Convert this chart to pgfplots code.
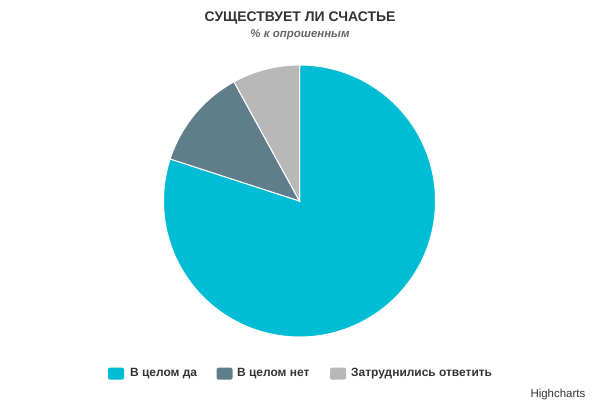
\documentclass[border=0pt]{standalone}
\usepackage{fontspec}
\setmainfont{Liberation Sans}
\usepackage{pgfplots}
\pgfplotsset{compat=1.18}
\usepackage{pgfplotstable}

\definecolor{cyes}{HTML}{00BCD4}
\definecolor{cno}{HTML}{607D8B}
\definecolor{chard}{HTML}{B8B8B8}
\definecolor{ctitle}{HTML}{333333}
\definecolor{csub}{HTML}{666666}

% share of respondents, %
\pgfplotstableread{
label value
yes   80
no    12
hard  8
}\piedata

\begin{document}
\begin{tikzpicture}[x=1bp,y=1bp]
  \path[use as bounding box] (0,0) rectangle (600,400);

  \pgfplotstablegetelem{0}{value}\of\piedata \let\va\pgfplotsretval
  \pgfplotstablegetelem{1}{value}\of\piedata \let\vb\pgfplotsretval
  \pgfplotstablegetelem{2}{value}\of\piedata \let\vc\pgfplotsretval
  \pgfmathsetmacro\angA{90}
  \pgfmathsetmacro\angB{\angA-3.6*\va}
  \pgfmathsetmacro\angC{\angB-3.6*\vb}
  \pgfmathsetmacro\angD{\angC-3.6*\vc}

  \begin{axis}[
      at={(0,0)}, anchor=south west,
      scale only axis, width=600bp, height=400bp,
      xmin=0, xmax=600, ymin=0, ymax=400,
      hide axis, clip=false,
    ]
    \def\ctr{axis cs:299.5,199}
    \fill[cyes,draw=white,line width=1bp] (\ctr) -- ([shift={(\angA:136bp)}]\ctr)
      arc[start angle=\angA, end angle=\angB, radius=136bp] -- cycle;
    \fill[cno,draw=white,line width=1bp] (\ctr) -- ([shift={(\angB:136bp)}]\ctr)
      arc[start angle=\angB, end angle=\angC, radius=136bp] -- cycle;
    \fill[chard,draw=white,line width=1bp] (\ctr) -- ([shift={(\angC:136bp)}]\ctr)
      arc[start angle=\angC, end angle=\angD, radius=136bp] -- cycle;
  \end{axis}

  % titles
  \node[ctitle,font=\fontsize{14}{16}\selectfont\bfseries] at (300,382) {СУЩЕСТВУЕТ ЛИ СЧАСТЬЕ};
  \node[csub,font=\fontsize{11.5}{13}\selectfont\bfseries\itshape] at (300,365) {\% к опрошенным};

  % legend
  \tikzset{lgbox/.style={minimum width=16bp,minimum height=12bp,inner sep=0pt,rounded corners=1.5bp},
           lgtxt/.style={ctitle,anchor=west,inner sep=0pt,font=\fontsize{12}{14}\selectfont\bfseries}}
  \node[lgbox,fill=cyes]  at (116,26.5) {};
  \node[lgtxt] at (130,26) {В целом да};
  \node[lgbox,fill=cno]   at (224.5,26.5) {};
  \node[lgtxt] at (237,26) {В целом нет};
  \node[lgbox,fill=chard] at (338,26.5) {};
  \node[lgtxt] at (351,26) {Затруднились ответить};

  % credit
  \node[ctitle,anchor=east,inner sep=0pt,font=\fontsize{11.5}{13}\selectfont] at (585.5,5.5) {Highcharts};
\end{tikzpicture}
\end{document}
